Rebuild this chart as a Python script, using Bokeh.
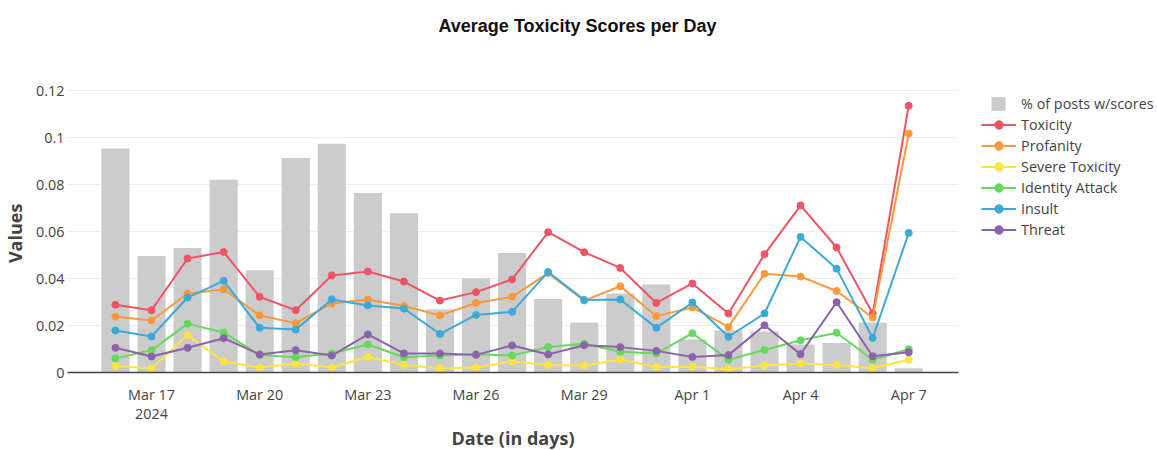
import pandas as pd
from bokeh.plotting import figure
from bokeh.models import (FixedTicker, CustomJSTickFormatter, Legend, LegendItem,
                          Range1d, ColumnDataSource)
from bokeh.embed import file_html
from bokeh.resources import INLINE

# ---------------- data ----------------
dates = ["2024-03-16", "2024-03-17", "2024-03-18", "2024-03-19", "2024-03-20",
         "2024-03-21", "2024-03-22", "2024-03-23", "2024-03-24", "2024-03-25",
         "2024-03-26", "2024-03-27", "2024-03-28", "2024-03-29", "2024-03-30",
         "2024-03-31", "2024-04-01", "2024-04-02", "2024-04-03", "2024-04-04",
         "2024-04-05", "2024-04-06", "2024-04-07"]

pct_posts = [0.0953, 0.0496, 0.0530, 0.0820, 0.0435, 0.0913, 0.0973, 0.0764,
             0.0678, 0.0269, 0.0401, 0.0509, 0.0313, 0.0213, 0.0336, 0.0374,
             0.0140, 0.0180, 0.0174, 0.0119, 0.0126, 0.0213, 0.0018]

toxicity = [0.0288, 0.0265, 0.0485, 0.0513, 0.0322, 0.0265, 0.0413, 0.0430,
            0.0387, 0.0306, 0.0342, 0.0396, 0.0597, 0.0512, 0.0445, 0.0296,
            0.0379, 0.0251, 0.0503, 0.0711, 0.0532, 0.0251, 0.1135]

profanity = [0.0238, 0.0221, 0.0335, 0.0354, 0.0243, 0.0210, 0.0294, 0.0311,
             0.0283, 0.0243, 0.0296, 0.0322, 0.0423, 0.0306, 0.0367, 0.0240,
             0.0277, 0.0194, 0.0420, 0.0408, 0.0347, 0.0234, 0.1017]

severe_toxicity = [0.0028, 0.0017, 0.0159, 0.0047, 0.0021, 0.0038, 0.0021, 0.0066,
                   0.0032, 0.0018, 0.0021, 0.0047, 0.0032, 0.0030, 0.0055, 0.0023,
                   0.0024, 0.0014, 0.0030, 0.0038, 0.0032, 0.0018, 0.0054]

identity_attack = [0.0060, 0.0095, 0.0207, 0.0170, 0.0074, 0.0065, 0.0081, 0.0119,
                   0.0065, 0.0072, 0.0078, 0.0072, 0.0108, 0.0122, 0.0088, 0.0081,
                   0.0167, 0.0054, 0.0096, 0.0137, 0.0169, 0.0054, 0.0099]

insult = [0.0179, 0.0153, 0.0319, 0.0390, 0.0190, 0.0183, 0.0311, 0.0285,
          0.0272, 0.0164, 0.0245, 0.0258, 0.0428, 0.0309, 0.0311, 0.0190,
          0.0298, 0.0152, 0.0251, 0.0577, 0.0442, 0.0147, 0.0594]

threat = [0.0105, 0.0068, 0.0105, 0.0146, 0.0077, 0.0095, 0.0072, 0.0162,
          0.0081, 0.0081, 0.0075, 0.0115, 0.0077, 0.0116, 0.0108, 0.0092,
          0.0066, 0.0074, 0.0201, 0.0078, 0.0299, 0.0069, 0.0086]

tick_dates = ["2024-03-17", "2024-03-20", "2024-03-23", "2024-03-26",
              "2024-03-29", "2024-04-01", "2024-04-04", "2024-04-07"]
y_ticks = [0, 0.02, 0.04, 0.06, 0.08, 0.1, 0.12]

series_names = ["Toxicity", "Profanity", "Severe Toxicity", "Identity Attack", "Insult", "Threat"]
series_values = [toxicity, profanity, severe_toxicity, identity_attack, insult, threat]
series_colors = ["#ef5466", "#f89a3c", "#fce444", "#66d95c", "#3ca9d8", "#8c62ab"]

# ---------------- figure ----------------
DAY = 86400000.0
x = pd.to_datetime(dates)
x_ms = [t.value / 1e6 for t in x]

FRAME_TOP = 47
FRAME_BOTTOM = 372
FRAME_H = FRAME_BOTTOM - FRAME_TOP
PX_PER_UNIT = 2350.0
p = figure(frame_width=891, frame_height=FRAME_H, output_backend="svg", toolbar_location=None,
           x_axis_type="datetime",
           x_range=Range1d(x_ms[0] - 1.33 * DAY, x_ms[-1] + 1.38 * DAY),
           y_range=Range1d(0, FRAME_H / PX_PER_UNIT),
           min_border_left=66, min_border_right=195, min_border_top=FRAME_TOP,
           min_border_bottom=0)

p.title.text = "Average Toxicity Scores per Day"
p.title.align = "left"
p.title.offset = 371
p.title.text_font = "Liberation Sans"
p.title.text_font_size = "18px"
p.title.text_font_style = "bold"
p.title.text_color = "#111111"
p.title.standoff = 23

p.outline_line_color = None
p.background_fill_color = "white"
p.border_fill_color = "white"
p.xgrid.grid_line_color = None
p.ygrid.grid_line_color = "#eeeeee"
p.ygrid.grid_line_width = 1
p.ygrid.ticker = FixedTicker(ticks=y_ticks)

src = ColumnDataSource(dict(x=x, pct=pct_posts))
bars = p.vbar(x="x", top="pct", width=0.78 * DAY, source=src,
              fill_color="#cccccc", line_color=None)

# legend stand-in for the bars: a thick dashed stroke that shows as a square swatch
# (its y is NaN so it draws nothing inside the plot)
bar_swatch = p.line(x=[x[0], x[1]], y=[float("nan"), float("nan")],
                    line_color="#cccccc", line_width=14, line_cap="butt",
                    line_dash="0 10 14 100")

items = [LegendItem(label="% of posts w/scores", renderers=[bar_swatch])]
for name, vals, col in zip(series_names, series_values, series_colors):
    s = ColumnDataSource(dict(x=x, y=vals))
    lr = p.line("x", "y", source=s, line_color=col, line_width=2)
    sr = p.scatter("x", "y", source=s, size=7, fill_color=col, line_color=col)
    items.append(LegendItem(label=name, renderers=[lr, sr]))

ITEM_H = 21
legend = Legend(items=items, orientation="vertical",
                glyph_width=35, glyph_height=ITEM_H, label_height=ITEM_H, spacing=0,
                padding=0, margin=0, border_line_color=None, background_fill_alpha=0,
                label_text_font="Open Sans", label_text_font_size="14.4px",
                label_text_color="#444444", label_standoff=5)
legend.location = (23, FRAME_H - (103 - ITEM_H / 2 - FRAME_TOP) - ITEM_H * len(items))
p.add_layout(legend, "right")

# x axis
xa = p.xaxis[0]
xa.ticker = FixedTicker(ticks=[pd.Timestamp(d).value / 1e6 for d in tick_dates])
xa.formatter = CustomJSTickFormatter(code="""
const months = ['Jan','Feb','Mar','Apr','May','Jun','Jul','Aug','Sep','Oct','Nov','Dec'];
const d = new Date(tick);
let s = months[d.getUTCMonth()] + ' ' + d.getUTCDate();
if (index == 0) { s += '\\n' + d.getUTCFullYear(); }
return s;
""")
xa.axis_label = "Date (in days)"
xa.axis_label_text_font = "Open Sans"
xa.axis_label_text_font_size = "18px"
xa.axis_label_text_font_style = "bold"
xa.axis_label_text_color = "#444444"
xa.axis_label_standoff = 0
xa.axis_label_text_line_height = 1.0
xa.major_label_text_font = "Open Sans"
xa.major_label_text_font_size = "14.4px"
xa.major_label_text_color = "#444444"
xa.major_label_text_line_height = 1.05
xa.major_label_standoff = 12
xa.major_tick_out = 0
xa.major_tick_in = 0
xa.minor_tick_out = 0
xa.minor_tick_in = 0
xa.major_tick_line_color = None
xa.minor_tick_line_color = None
xa.axis_line_color = "#444444"
xa.axis_line_width = 1.5

# y axis
ya = p.yaxis[0]
ya.ticker = FixedTicker(ticks=y_ticks)
ya.formatter = CustomJSTickFormatter(code="return String(Math.round(tick*100)/100);")
ya.axis_label = "Values" + "\u00a0" * 10
ya.axis_label_text_font = "Open Sans"
ya.axis_label_text_font_size = "18px"
ya.axis_label_text_font_style = "bold"
ya.axis_label_text_color = "#444444"
ya.axis_label_standoff = 6
ya.major_label_text_font = "Open Sans"
ya.major_label_text_font_size = "14.4px"
ya.major_label_text_color = "#444444"
ya.major_label_standoff = 3
ya.major_tick_out = 0
ya.major_tick_in = 0
ya.minor_tick_out = 0
ya.minor_tick_in = 0
ya.major_tick_line_color = None
ya.minor_tick_line_color = None
ya.axis_line_color = None

open("out.html", "w").write(file_html(p, INLINE))
